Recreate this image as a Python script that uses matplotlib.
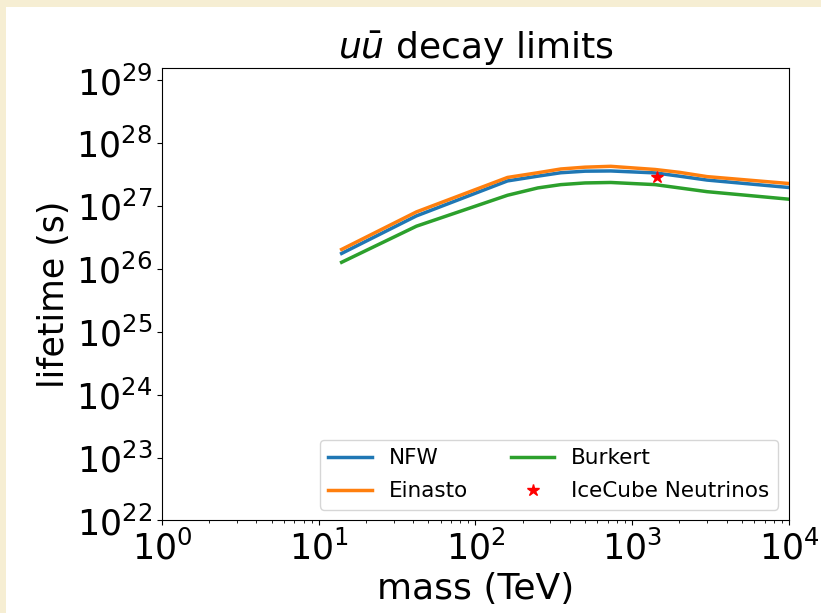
import numpy as np
import matplotlib
matplotlib.use("Agg")
import matplotlib.pyplot as plt
from matplotlib.patches import Rectangle

# masses (TeV) and lifetime limits (s)
masa = [14, 42, 160, 250, 350, 500, 730, 1400, 2000, 3000, 10000]
nfw = [1.77e26, 7.0e26, 2.52e27, 3.0e27, 3.4e27, 3.6e27, 3.63e27, 3.38e27, 3.0e27, 2.6e27, 1.98e27]
einasto = [2.05e26, 8.1e26, 2.86e27, 3.4e27, 3.9e27, 4.17e27, 4.3e27, 3.83e27, 3.45e27, 2.95e27, 2.29e27]
burkert = [1.28e26, 4.8e26, 1.49e27, 1.95e27, 2.2e27, 2.34e27, 2.38e27, 2.2e27, 1.95e27, 1.7e27, 1.29e27]

icecube_m = [1430]
icecube_t = [2.86e27]

fig = plt.figure(figsize=(8.21, 6.13), dpi=100)
fig.patch.set_facecolor("#f6eed3")
# fundo branco da figura
fig.patches.append(Rectangle((6 / 821, 0), 1, 1 - 7 / 613, transform=fig.transFigure,
                             facecolor="white", edgecolor="none", zorder=-5))

ax = fig.add_axes([0.1973, 0.1509, 0.7637, 0.7374])
ax.plot(masa, nfw, color="#1f77b4", lw=2.5, label="NFW")
ax.plot(masa, einasto, color="#ff7f0e", lw=2.5, label="Einasto")
ax.plot(masa, burkert, color="#2ca02c", lw=2.5, label="Burkert")
ax.plot(icecube_m, icecube_t, "r*", ms=9, linestyle="none", label="IceCube Neutrinos")

ax.set_xscale("log")
ax.set_yscale("log")
ax.set_xlim(1, 1e4)
ax.set_ylim(1e22, 10 ** 29.19)
ax.set_yticks([10.0 ** k for k in range(22, 30)])

ax.tick_params(axis="both", which="major", labelsize=25)
ax.set_xlabel("mass (TeV)", fontsize=26)
ax.set_ylabel("lifetime (s)", fontsize=25)
ax.set_title(r"$u\bar{u}$ decay limits", fontsize=26)
ax.legend(loc="lower right", ncol=2, fontsize=15.5, labelspacing=0.6)

fig.savefig("out.png", dpi=100)
